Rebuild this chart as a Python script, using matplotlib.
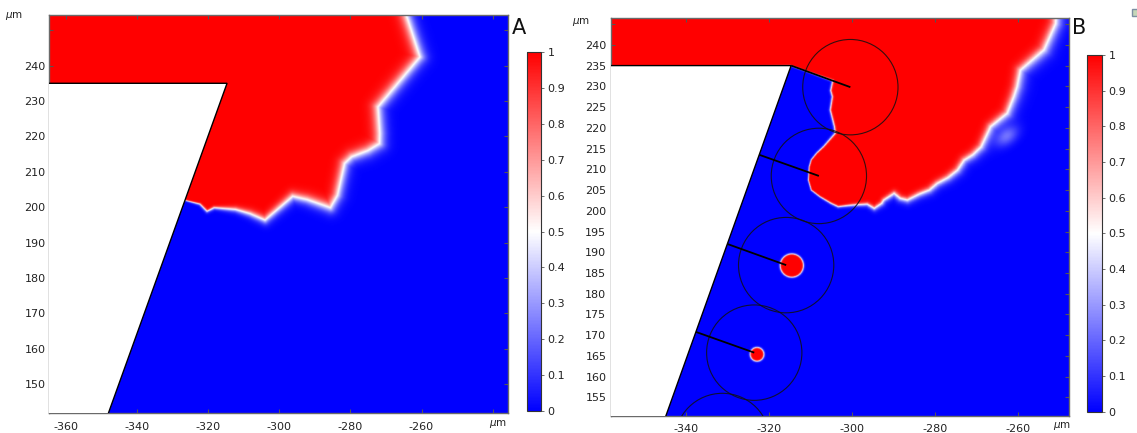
import numpy as np
import matplotlib
matplotlib.use("Agg")
import matplotlib.pyplot as plt
from matplotlib.path import Path
from matplotlib.patches import Polygon, Circle, Rectangle
from matplotlib.cm import ScalarMappable
from matplotlib.colors import Normalize

plt.rcParams['font.family'] = ['DejaVu Sans']
plt.rcParams['axes.unicode_minus'] = False

# ---------------- data ----------------
a_xlim = (-364.7, -235.7)
a_ylim = (141.9, 254.3)
a_xticks = [-360, -340, -320, -300, -280, -260, -240]
a_xticklabels = ['-360', '-340', '-320', '-300', '-280', '-260', '']
a_yticks = [150, 160, 170, 180, 190, 200, 210, 220, 230, 240, 250]
a_yticklabels = ['150', '160', '170', '180', '190', '200', '210', '220', '230', '240', '']

b_xlim = (-358.3, -247.6)
b_ylim = (150.6, 246.4)
b_xticks = [-340, -320, -300, -280, -260]
b_xticklabels = ['-340', '-320', '-300', '-280', '-260']
b_yticks = [155, 160, 165, 170, 175, 180, 185, 190, 195, 200, 205, 210, 215, 220, 225, 230, 235, 240, 245]
b_yticklabels = ['155', '160', '165', '170', '175', '180', '185', '190', '195', '200', '205',
                 '210', '215', '220', '225', '230', '235', '240', '']

cbar_ticks = [0, 0.1, 0.2, 0.3, 0.4, 0.5, 0.6, 0.7, 0.8, 0.9, 1]
cbar_labels = ['0', '0.1', '0.2', '0.3', '0.4', '0.5', '0.6', '0.7', '0.8', '0.9', '1']

# notch (white region) geometry
wedge_corner_x = -314.7
wedge_top_y = 235.0
wedge_slope = 0.358   # dx/dy of the slanted face

# panel A: 0.5-contour of the phase field (red side enclosed)
a_front_x = [-400, -400, -326.5, -322.3, -320.3, -318.3, -312.3, -308.2, -304.0, -296.2,
             -292.2, -285.6, -283.6, -281.6, -279.6, -275.1, -271.8, -271.7, -272.2, -260.4,
             -264.2, -264.6]
a_front_y = [270, 202.0, 202.0, 200.9, 198.9, 199.9, 199.4, 198.2, 196.4, 203.1,
             202.2, 199.9, 203.4, 212.4, 214.3, 216.0, 218.0, 220.9, 228.4, 242.5,
             254.3, 270]

# panel B: 0.5-contour of the phase field
b_front_x = [-400, -400, -315.0, -304.8, -305.3, -304.9, -305.4, -304.4, -304.2, -307.0,
             -308.7, -310.0, -310.5, -310.7, -310.0, -307.9, -305.2, -303.5, -300.0, -296.5,
             -294.8, -293.0, -292.5, -290.0, -288.5, -286.8, -284.0, -281.5, -279.6, -277.0,
             -274.7, -273.1, -271.0, -269.0, -266.7, -262.7, -261.1, -260.3, -259.5, -253.8,
             -251.0, -250.0]
b_front_y = [260, 234.0, 235.0, 231.4, 229.0, 227.5, 224.3, 220.3, 218.7, 215.5,
             213.9, 212.3, 210.6, 207.4, 205.0, 203.4, 201.8, 201.0, 201.4, 201.6,
             200.6, 201.8, 202.6, 204.2, 203.0, 202.6, 204.0, 205.0, 206.6, 208.0,
             209.8, 212.2, 213.5, 215.4, 220.3, 223.5, 227.5, 229.9, 233.9, 238.8,
             245.1, 260]

# panel B: isolated red nuclei
blob_x = [-314.7, -323.1]
blob_y = [186.8, 165.4]
blob_r = [2.8, 1.65]

# panel B: faint partially-transformed spot ahead of the front
spot_x, spot_y, spot_amp = -262.8, 218.0, 0.22

# panel B: circles and the segments joining the notch face to their centres
circ_x = [-300.4, -308.0, -315.9, -323.6, -331.3]
circ_y = [229.8, 208.4, 186.9, 165.8, 144.5]
circ_r = 11.5
seg_start_y = [235.0, 213.5, 192.0, 170.8, 149.6]

W, H = 1137, 433


def signed_dist(X, Y, vx, vy):
    pts = np.column_stack([vx, vy])
    inside = Path(pts).contains_points(np.column_stack([X.ravel(), Y.ravel()])).reshape(X.shape)
    d = np.full(X.shape, np.inf)
    n = len(vx)
    for i in range(n):
        ax_, ay_ = vx[i], vy[i]
        bx_, by_ = vx[(i + 1) % n], vy[(i + 1) % n]
        dx, dy = bx_ - ax_, by_ - ay_
        L2 = dx * dx + dy * dy
        if L2 == 0:
            continue
        t = np.clip(((X - ax_) * dx + (Y - ay_) * dy) / L2, 0, 1)
        d = np.minimum(d, np.hypot(X - ax_ - t * dx, Y - ay_ - t * dy))
    return np.where(inside, -d, d)


def profile(d, w_in, w_out):
    return np.where(d < 0, 0.5 + 0.5 * np.tanh(-d / w_in), 0.5 - 0.5 * np.tanh(d / w_out))


def wedge_patch():
    verts = [(-400, wedge_top_y), (wedge_corner_x, wedge_top_y),
             (wedge_corner_x - wedge_slope * (wedge_top_y - 100), 100), (-400, 100)]
    return Polygon(verts, closed=True, facecolor='white', edgecolor='black', lw=1.0, zorder=3)


def px_rect(l, t, r, b):
    return [l / W, 1 - b / H, (r - l) / W, (b - t) / H]


def style_axes(ax, xl, yl, xt, xtl, yt, ytl, xpad, ypad):
    ax.set_xlim(*xl)
    ax.set_ylim(*yl)
    ax.set_xticks(xt)
    ax.set_xticklabels(xtl)
    ax.set_yticks(yt)
    ax.set_yticklabels(ytl)
    ax.tick_params(axis='x', direction='in', length=3, width=0.8, color='#555555',
                   top=True, bottom=True, labelsize=8, labelcolor='#222222', pad=xpad)
    ax.tick_params(axis='y', direction='in', length=3, width=0.8, color='#555555',
                   left=True, right=True, labelsize=8, labelcolor='#222222', pad=ypad)
    for s in ax.spines.values():
        s.set_color('#6a6a6a')
        s.set_linewidth(1.0)


def add_cbar(fig, rect):
    cax = fig.add_axes(rect)
    cb = fig.colorbar(ScalarMappable(norm=Normalize(0, 1), cmap='bwr'), cax=cax)
    cb.set_ticks(cbar_ticks)
    cb.set_ticklabels(cbar_labels)
    cax.tick_params(direction='out', length=2, width=0.6, color='#555555',
                    labelsize=8, labelcolor='#222222', pad=3)
    cb.outline.set_linewidth(0.8)
    cb.outline.set_edgecolor('#333333')
    return cb


fig = plt.figure(figsize=(W / 100, H / 100), dpi=100)

# ---------------- panel A ----------------
axA = fig.add_axes(px_rect(49.3, 15.0, 507.9, 412.7))
xs = np.arange(a_xlim[0] - 1, a_xlim[1] + 1, 0.15)
ys = np.arange(a_ylim[0] - 1, a_ylim[1] + 1, 0.15)
X, Y = np.meshgrid(xs, ys)
dA = signed_dist(X, Y, np.array(a_front_x), np.array(a_front_y))
winA = np.interp(X, [-327, -318, -308, -292, -272], [0.15, 0.45, 1.1, 1.6, 2.0])
woutA = np.interp(X, [-327, -318, -308, -292, -272], [0.25, 0.6, 1.2, 1.7, 2.1])
vA = profile(dA, winA, woutA)
axA.imshow(vA, extent=[xs[0], xs[-1], ys[0], ys[-1]], origin='lower', cmap='bwr',
           vmin=0, vmax=1, interpolation='bilinear', aspect='auto', zorder=1)
axA.add_patch(wedge_patch())
style_axes(axA, a_xlim, a_ylim, a_xticks, a_xticklabels, a_yticks, a_yticklabels, 6.5, 2.6)
add_cbar(fig, px_rect(526.7, 52, 540.7, 411))

# ---------------- panel B ----------------
axB = fig.add_axes(px_rect(610.5, 18.3, 1069.1, 415.7))
xs = np.arange(b_xlim[0] - 1, b_xlim[1] + 1, 0.15)
ys = np.arange(b_ylim[0] - 1, b_ylim[1] + 1, 0.15)
X, Y = np.meshgrid(xs, ys)
dB = signed_dist(X, Y, np.array(b_front_x), np.array(b_front_y))
winB = np.interp(X, [-311, -302, -290, -270, -255], [0.15, 0.3, 0.7, 1.1, 1.5])
woutB = np.interp(X, [-311, -302, -290, -270, -255], [0.2, 0.4, 0.9, 1.4, 1.9])
vB = profile(dB, winB, woutB)
spot = spot_amp * np.exp(-(((X - spot_x) * 0.8 + (Y - spot_y) * 0.6) ** 2 / (2 * 2.2 ** 2)
                           + ((X - spot_x) * -0.6 + (Y - spot_y) * 0.8) ** 2 / (2 * 1.4 ** 2)))
vB = np.where(dB > 0, vB + spot, vB)
for bx, by, br in zip(blob_x, blob_y, blob_r):
    db = np.hypot(X - bx, Y - by) - br
    vB = np.maximum(vB, profile(db, 0.2, 0.25))
vB = np.clip(vB, 0, 1)
axB.imshow(vB, extent=[xs[0], xs[-1], ys[0], ys[-1]], origin='lower', cmap='bwr',
           vmin=0, vmax=1, interpolation='bilinear', aspect='auto', zorder=1)
axB.add_patch(wedge_patch())
for cx, cy, sy in zip(circ_x, circ_y, seg_start_y):
    axB.add_patch(Circle((cx, cy), circ_r, fill=False, edgecolor='#111111', lw=0.8,
                         alpha=0.85, zorder=4))
    sx = wedge_corner_x - wedge_slope * (wedge_top_y - sy)
    axB.plot([sx, cx], [sy, cy], color='black', lw=1.3, zorder=5, solid_capstyle='butt')
style_axes(axB, b_xlim, b_ylim, b_xticks, b_xticklabels, b_yticks, b_yticklabels, 6.0, 3.0)
add_cbar(fig, px_rect(1087.2, 55, 1101.6, 411.7))

# ---------------- texts ----------------
def ftext(x, y, s, **kw):
    fig.text(x / W, 1 - y / H, s, ha='center', va='center', **kw)

ftext(14, 16.5, r'$\mu$m', fontsize=7.5, color='#222222')
ftext(498, 423.5, r'$\mu$m', fontsize=7.5, color='#222222')
ftext(581, 21.5, r'$\mu$m', fontsize=7.5, color='#222222')
ftext(1062, 426.5, r'$\mu$m', fontsize=7.5, color='#222222')
ftext(518.5, 27.5, 'A', fontsize=15, color='#111111')
ftext(1079, 27.5, 'B', fontsize=15, color='#111111')

fig.patches.append(Rectangle((1131.5 / W, 1 - 15.5 / H), 7 / W, 7 / H, transform=fig.transFigure,
                             facecolor='#c5d6b8', edgecolor='#7d8fa3', lw=1.0))

fig.savefig('out.png', dpi=100)
